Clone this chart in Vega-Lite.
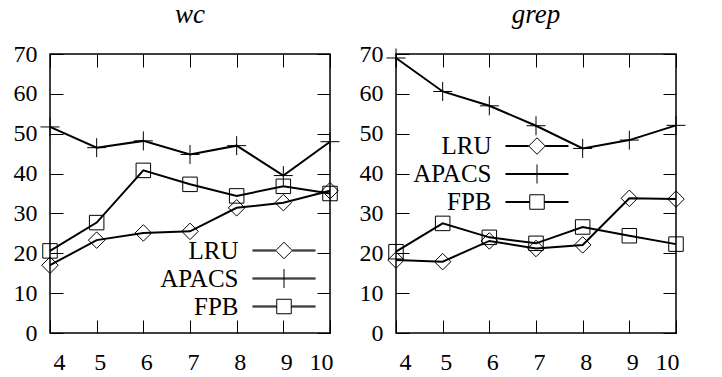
{
  "$schema": "https://vega.github.io/schema/vega-lite/v6.json",
  "padding": {"left": 12, "top": 0, "right": 0, "bottom": 0},
  "background": "white",
  "spacing": 15,
  "config": {
    "view": {"stroke": "black", "strokeWidth": 1.5},
    "font": "Liberation Serif",
    "axis": {"domain": false, "grid": false, "tickColor": "black", "tickSize": -13, "tickWidth": 1, "labelFont": "Liberation Serif", "labelFontSize": 24, "labelColor": "black"},
    "legend": {"labelFont": "Liberation Serif"}
  },
  "datasets": {
    "wc": [
      {"n": 4, "series": "LRU", "v": 17.0}, {"n": 5, "series": "LRU", "v": 23.3}, {"n": 6, "series": "LRU", "v": 25.1}, {"n": 7, "series": "LRU", "v": 25.5}, {"n": 8, "series": "LRU", "v": 31.4}, {"n": 9, "series": "LRU", "v": 32.7}, {"n": 10, "series": "LRU", "v": 35.7},
      {"n": 4, "series": "APACS", "v": 51.7}, {"n": 5, "series": "APACS", "v": 46.5}, {"n": 6, "series": "APACS", "v": 48.2}, {"n": 7, "series": "APACS", "v": 44.8}, {"n": 8, "series": "APACS", "v": 47.0}, {"n": 9, "series": "APACS", "v": 39.5}, {"n": 10, "series": "APACS", "v": 48.0},
      {"n": 4, "series": "FPB", "v": 20.6}, {"n": 5, "series": "FPB", "v": 27.7}, {"n": 6, "series": "FPB", "v": 40.8}, {"n": 7, "series": "FPB", "v": 37.3}, {"n": 8, "series": "FPB", "v": 34.4}, {"n": 9, "series": "FPB", "v": 36.8}, {"n": 10, "series": "FPB", "v": 35.0}
    ],
    "grep": [
      {"n": 4, "series": "LRU", "v": 18.3}, {"n": 5, "series": "LRU", "v": 17.9}, {"n": 6, "series": "LRU", "v": 23.1}, {"n": 7, "series": "LRU", "v": 21.2}, {"n": 8, "series": "LRU", "v": 22.1}, {"n": 9, "series": "LRU", "v": 33.8}, {"n": 10, "series": "LRU", "v": 33.6},
      {"n": 4, "series": "APACS", "v": 69.0}, {"n": 5, "series": "APACS", "v": 60.6}, {"n": 6, "series": "APACS", "v": 57.0}, {"n": 7, "series": "APACS", "v": 52.0}, {"n": 8, "series": "APACS", "v": 46.3}, {"n": 9, "series": "APACS", "v": 48.4}, {"n": 10, "series": "APACS", "v": 52.1},
      {"n": 4, "series": "FPB", "v": 20.4}, {"n": 5, "series": "FPB", "v": 27.5}, {"n": 6, "series": "FPB", "v": 24.0}, {"n": 7, "series": "FPB", "v": 22.5}, {"n": 8, "series": "FPB", "v": 26.6}, {"n": 9, "series": "FPB", "v": 24.4}, {"n": 10, "series": "FPB", "v": 22.3}
    ]
  },
  "hconcat": [
    {
      "title": {"text": "wc", "font": "Liberation Serif", "fontStyle": "italic", "fontWeight": "normal", "fontSize": 27, "color": "black", "frame": "group", "anchor": "middle", "baseline": "alphabetic", "offset": -8},
      "width": 280,
      "height": 279,
      "data": {"name": "wc"},
      "layer": [
        {
          "mark": {"type": "line", "stroke": "black", "strokeWidth": 2},
          "encoding": {
            "x": {"field": "n", "type": "quantitative", "scale": {"domain": [4, 10], "nice": false}, "axis": {"orient": "bottom", "title": null, "values": [4, 5, 6, 7, 8, 9, 10], "labelPadding": 30, "labelOffset": 3}},
            "y": {"field": "v", "type": "quantitative", "scale": {"domain": [0, 70], "nice": false}, "axis": {"orient": "left", "title": null, "values": [0, 10, 20, 30, 40, 50, 60, 70], "labelPadding": 26}},
            "detail": {"field": "series"}
          }
        },
        {
          "mark": {"type": "point", "filled": false, "stroke": "black", "strokeWidth": 1, "size": 100, "opacity": 1},
          "encoding": {
            "x": {"field": "n", "type": "quantitative", "scale": {"domain": [4, 10], "nice": false}, "axis": {"orient": "top", "title": null, "labels": false, "values": [4, 5, 6, 7, 8, 9, 10]}},
            "y": {"field": "v", "type": "quantitative", "scale": {"domain": [0, 70], "nice": false}, "axis": {"orient": "right", "title": null, "labels": false, "values": [0, 10, 20, 30, 40, 50, 60, 70]}},
            "shape": {
              "field": "series", "type": "nominal", "legend": null,
              "scale": {"domain": ["LRU", "APACS", "FPB"], "range": ["M0,-1.65L1.65,0L0,1.65L-1.65,0Z", "M-1.9,0H1.9M0,-1.9V1.9", "M-1.45,-1.45H1.45V1.45H-1.45Z"]}
            }
          }
        },
        {
          "transform": [{"filter": "false"}],
          "mark": {"type": "point", "filled": false, "stroke": "black", "strokeWidth": 1, "size": 100, "opacity": 1},
          "encoding": {
            "shape": {
              "field": "series", "type": "nominal",
              "scale": {"domain": ["LRU", "APACS", "FPB"], "range": ["M-6.3,-0.1H-1.65M1.65,-0.1H6.3M-6.3,0.1H-1.65M1.65,0.1H6.3M0,-1.65L1.65,0L0,1.65L-1.65,0Z", "M-6.3,-0.1H6.3M-6.3,0.1H6.3M0,-1.9V1.9", "M-6.3,-0.1H-1.45M1.45,-0.1H6.3M-6.3,0.1H-1.45M1.45,0.1H6.3M-1.45,-1.45H1.45V1.45H-1.45Z"]},
              "legend": {
                "orient": "none", "legendX": 221.5, "legendY": 184, "title": null, "padding": 0,
                "symbolSize": 100, "symbolOffset": 0, "labelOffset": -58, "labelAlign": "right",
                "labelFontSize": 25, "labelFont": "Liberation Serif", "labelColor": "black", "rowPadding": 2,
                "symbolStrokeColor": "black", "symbolStrokeWidth": 1, "symbolFillColor": "transparent", "symbolOpacity": 1
              }
            }
          }
        }
      ],
      "resolve": {"axis": {"x": "independent", "y": "independent"}, "scale": {"shape": "independent"}, "legend": {"shape": "independent"}}
    },
    {
      "title": {"text": "grep", "font": "Liberation Serif", "fontStyle": "italic", "fontWeight": "normal", "fontSize": 27, "color": "black", "frame": "group", "anchor": "middle", "baseline": "alphabetic", "offset": -8},
      "width": 280,
      "height": 279,
      "data": {"name": "grep"},
      "layer": [
        {
          "mark": {"type": "line", "stroke": "black", "strokeWidth": 2},
          "encoding": {
            "x": {"field": "n", "type": "quantitative", "scale": {"domain": [4, 10], "nice": false}, "axis": {"orient": "bottom", "title": null, "values": [4, 5, 6, 7, 8, 9, 10], "labelPadding": 30, "labelOffset": 3}},
            "y": {"field": "v", "type": "quantitative", "scale": {"domain": [0, 70], "nice": false}, "axis": {"orient": "left", "title": null, "values": [0, 10, 20, 30, 40, 50, 60, 70], "labelPadding": 26}},
            "detail": {"field": "series"}
          }
        },
        {
          "mark": {"type": "point", "filled": false, "stroke": "black", "strokeWidth": 1, "size": 100, "opacity": 1},
          "encoding": {
            "x": {"field": "n", "type": "quantitative", "scale": {"domain": [4, 10], "nice": false}, "axis": {"orient": "top", "title": null, "labels": false, "values": [4, 5, 6, 7, 8, 9, 10]}},
            "y": {"field": "v", "type": "quantitative", "scale": {"domain": [0, 70], "nice": false}, "axis": {"orient": "right", "title": null, "labels": false, "values": [0, 10, 20, 30, 40, 50, 60, 70]}},
            "shape": {
              "field": "series", "type": "nominal", "legend": null,
              "scale": {"domain": ["LRU", "APACS", "FPB"], "range": ["M0,-1.65L1.65,0L0,1.65L-1.65,0Z", "M-1.9,0H1.9M0,-1.9V1.9", "M-1.45,-1.45H1.45V1.45H-1.45Z"]}
            }
          }
        },
        {
          "transform": [{"filter": "false"}],
          "mark": {"type": "point", "filled": false, "stroke": "black", "strokeWidth": 1, "size": 100, "opacity": 1},
          "encoding": {
            "shape": {
              "field": "series", "type": "nominal",
              "scale": {"domain": ["LRU", "APACS", "FPB"], "range": ["M-6.3,-0.1H-1.65M1.65,-0.1H6.3M-6.3,0.1H-1.65M1.65,0.1H6.3M0,-1.65L1.65,0L0,1.65L-1.65,0Z", "M-6.3,-0.1H6.3M-6.3,0.1H6.3M0,-1.9V1.9", "M-6.3,-0.1H-1.45M1.45,-0.1H6.3M-6.3,0.1H-1.45M1.45,0.1H6.3M-1.45,-1.45H1.45V1.45H-1.45Z"]},
              "legend": {
                "orient": "none", "legendX": 128.5, "legendY": 79.5, "title": null, "padding": 0,
                "symbolSize": 100, "symbolOffset": 0, "labelOffset": -58, "labelAlign": "right",
                "labelFontSize": 25, "labelFont": "Liberation Serif", "labelColor": "black", "rowPadding": 2,
                "symbolStrokeColor": "black", "symbolStrokeWidth": 1, "symbolFillColor": "transparent", "symbolOpacity": 1
              }
            }
          }
        }
      ],
      "resolve": {"axis": {"x": "independent", "y": "independent"}, "scale": {"shape": "independent"}, "legend": {"shape": "independent"}}
    }
  ],
  "resolve": {"scale": {"shape": "independent"}, "legend": {"shape": "independent"}}
}
